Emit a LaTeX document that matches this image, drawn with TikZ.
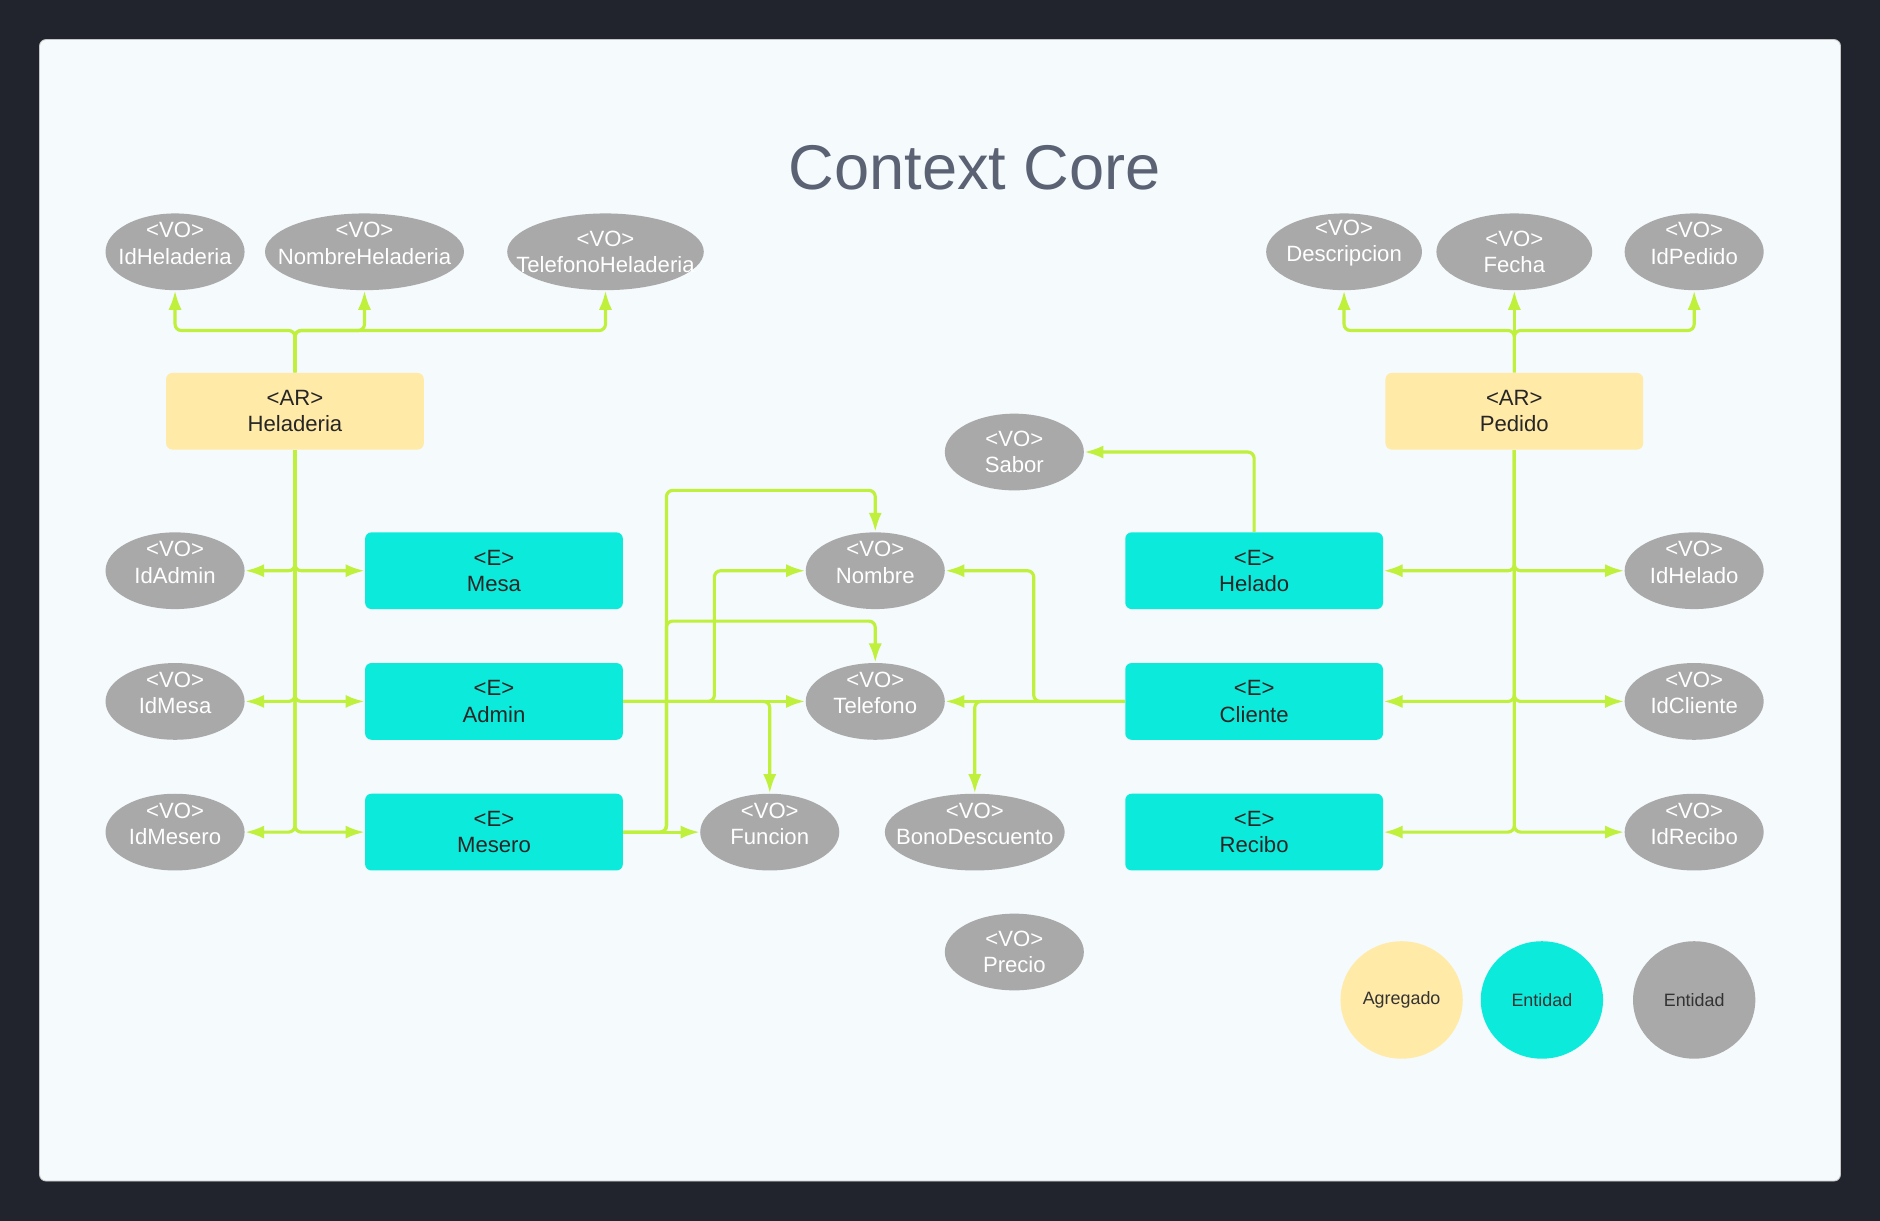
\documentclass[tikz,border=0pt]{standalone}
\usepackage{fontspec}
\setmainfont{Liberation Sans}
\usetikzlibrary{arrows.meta,shapes.geometric}
\definecolor{bgdark}{HTML}{21242C}
\definecolor{panel}{HTML}{F5FAFD}
\definecolor{titlegray}{HTML}{5B6273}
\definecolor{vogray}{HTML}{A9A9A9}
\definecolor{entcyan}{HTML}{0CEBDB}
\definecolor{aryellow}{HTML}{FFEAA7}
\definecolor{linklime}{HTML}{BFF03B}
\begin{document}
\begin{tikzpicture}[x=0.02cm, y=-0.02cm,
  vo/.style={ellipse, fill=vogray, minimum height=1.28cm, minimum width=2.32cm, inner sep=0pt},
  votext/.style={text=white, align=center, inner sep=0pt, yshift=0.14cm, font=\fontsize{10.5}{12.5}\selectfont},
  ent/.style={rectangle, rounded corners=3pt, fill=entcyan, minimum width=4.3cm, minimum height=1.28cm, align=center, text=black!85, font=\fontsize{10.5}{12.5}\selectfont},
  agg/.style={ent, fill=aryellow},
  link/.style={draw=linklime, line width=1.5pt, rounded corners=3pt, -{Latex[length=0.32cm,width=0.22cm]}},
  legend/.style={ellipse, minimum width=2.04cm, minimum height=1.96cm, inner sep=0pt, text=black!80, font=\fontsize{8.5}{10}\selectfont}
]

\fill[bgdark] (0,0) rectangle (1568,1018);
\draw[fill=panel, draw=gray!45, rounded corners=3pt] (33,33) rectangle (1535,985);
\node[text=titlegray, font=\fontsize{30}{36}\selectfont] (title) at (813,140) {Context Core};

\node[agg] (Heladeria) at (246,343) {<AR>\\Heladeria};
\node[agg] (Pedido) at (1263,343) {<AR>\\Pedido};
\foreach \n/\x/\y in {Mesa/412/476, Admin/412/585, Mesero/412/694, Helado/1046/476, Cliente/1046/585, Recibo/1046/694}
{
	\node[ent] (\n) at (\x,\y) {<E>\\\n};
}

\foreach \n/\x/\y/\w/\s in {IdHeladeria/146/210/2.32/0.14, NombreHeladeria/304/210/3.32/0.14, TelefonoHeladeria/505/210/3.28/0, Descripcion/1121/210/2.6/0.14, Fecha/1263/210/2.6/0, IdPedido/1413/210/2.32/0.14, Sabor/846/377/2.32/0, IdAdmin/146/476/2.32/0.14, IdMesa/146/585/2.32/0.14, IdMesero/146/694/2.32/0.14, Nombre/730/476/2.32/0.14, Telefono/730/585/2.32/0.14, Funcion/642/694/2.32/0.14, BonoDescuento/813/694/3.0/0.14, Precio/846/794/2.32/0, IdHelado/1413/476/2.32/0.14, IdCliente/1413/585/2.32/0.14, IdRecibo/1413/694/2.32/0.14}
{
	\node[vo, minimum width=\w cm, label={[votext, yshift=\s cm-0.14cm]center:{<VO>\\\n}}] (\n) at (\x,\y) {};
}

\node[legend, fill=aryellow] (legAgregado) at (1169,834) {Agregado};
\node[legend, fill=entcyan] (legEntidad) at (1286,834) {Entidad};
\node[legend, fill=vogray] (legValor) at (1413,834) {Entidad};

\foreach \v in {IdHeladeria, NombreHeladeria, TelefonoHeladeria}
	\draw[link] (Heladeria.north) -- ++(0,-35) -| (\v.south);
\foreach \v in {Descripcion, IdPedido}
	\draw[link] (Pedido.north) -- ++(0,-35) -| (\v.south);
\draw[link] (Pedido.north) -- (Fecha.south);

\foreach \e/\v in {Mesa/IdAdmin, Admin/IdMesa, Mesero/IdMesero}
{
	\draw[link] (Heladeria.south) |- (\e.west);
	\draw[link] (Heladeria.south) |- (\v.east);
}
\foreach \e/\v in {Helado/IdHelado, Cliente/IdCliente, Recibo/IdRecibo}
{
	\draw[link] (Pedido.south) |- (\e.east);
	\draw[link] (Pedido.south) |- (\v.west);
}

\draw[link] (Helado.north) |- (Sabor.east);
\draw[link] (Cliente.west) -- (Telefono.east);
\draw[link] (Cliente.west) -- ++(-76,0) |- (Nombre.east);
\draw[link] (Cliente.west) -| (BonoDescuento.north);

\draw[link] (Admin.east) -- (Telefono.west);
\draw[link] (Admin.east) -- ++(76,0) |- (Nombre.west);
\draw[link] (Admin.east) -| (Funcion.north);

\draw[link] (Mesero.east) -- (Funcion.west);
\draw[link] (Mesero.east) -- ++(36,0) -- ++(0,-285) -| (Nombre.north);
\draw[link] (Mesero.east) -- ++(36,0) -- ++(0,-176) -| (Telefono.north);
\end{tikzpicture}
\end{document}
